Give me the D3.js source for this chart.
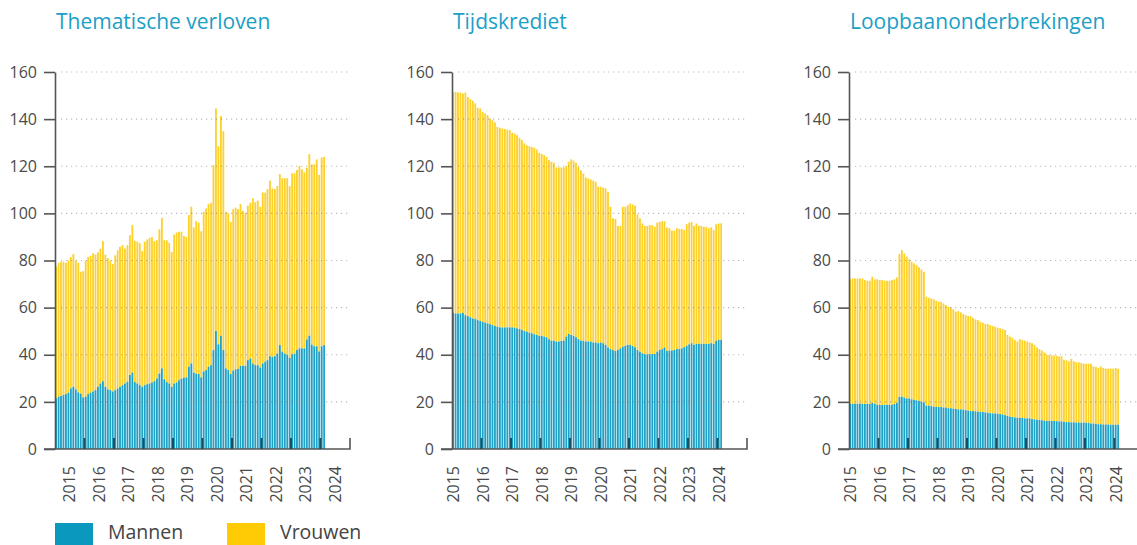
<!DOCTYPE html>
<html>
<head>
<meta charset="utf-8">
<script src="https://cdn.jsdelivr.net/npm/d3@7"></script>
<style>
  body { margin: 0; background: #fff; }
  svg { display: block; font-family: "Open Sans", sans-serif; }
</style>
</head>
<body>
<div id="chart"></div>
<script>
const width = 1137;
const height = 545;

const titles = ["Thematische verloven", "Tijdskrediet", "Loopbaanonderbrekingen"];
const years = [2015, 2016, 2017, 2018, 2019, 2020, 2021, 2022, 2023, 2024];
const yTicks = [0, 20, 40, 60, 80, 100, 120, 140, 160];
const legendLabels = ["Mannen", "Vrouwen"];

// monthly bars, Jan 2015 - Feb 2024 (in thousands)
const months = d3.utcMonths(new Date(Date.UTC(2015, 0, 1)), new Date(Date.UTC(2024, 2, 1)));

const mannenThema = [21.5,22.2,22.5,22.9,23.3,23.9,25.7,26.4,25.3,24.0,
  23.5,21.9,22.2,23.3,23.9,24.4,25.0,26.4,27.8,28.8,
  26.4,25.3,25.0,24.4,25.0,25.7,26.4,27.1,27.8,28.5,
  31.4,32.5,28.4,27.8,27.1,26.4,27.1,27.5,27.8,28.2,
  28.8,29.9,32.0,34.2,29.6,28.4,27.8,26.4,27.8,28.2,
  29.2,29.9,30.2,30.4,34.9,36.3,32.4,32.0,31.8,30.4,
  32.9,33.5,34.9,35.6,42.0,50.1,44.4,48.0,42.0,34.2,
  33.5,31.8,33.3,33.8,34.0,35.3,35.3,35.3,37.7,38.4,
  36.3,35.6,35.6,34.6,36.3,37.0,37.7,39.4,39.1,39.4,
  40.5,44.1,41.3,40.5,39.9,38.7,40.2,40.5,42.0,42.7,
  42.7,42.7,46.5,48.1,44.3,43.6,43.6,41.4,43.6,44.1];
const totaalThema = [77.5,79,79.5,79.5,79,80,81.5,82.7,80,79,
  75.2,75.5,80,81.5,82,83,82.5,83.5,85,88.2,
  82.5,81,80,78.5,82.2,84.4,85.8,86.5,85.1,86.5,
  90.7,95.0,88.4,88.0,87.3,84.0,88.0,88.9,89.6,90.0,
  88.2,88.6,93.2,98.1,88.6,88.6,87.5,83.6,91.0,91.9,
  92.2,92.2,90.4,90.0,99.3,102.8,94.0,96.7,96.1,92.4,
  100.7,102.1,104.0,104.5,120.5,144.5,128.5,141.3,134.9,100.7,
  100.0,96.4,101.8,102.5,101.8,104.0,101.1,100.3,103.3,104.5,
  106.4,104.7,105.4,102.8,108.9,108.8,110.3,113.9,110.6,110.3,
  111.6,116.7,114.9,114.9,114.9,111.6,117.0,117.0,118.4,120.1,
  118.7,117.4,119.4,125.1,120.8,120.8,122.9,116.3,123.7,124.0];

const mannenTijd = [57.8,57.5,57.5,57.5,57.8,56.8,56.4,55.9,55.4,55.2,
  54.7,54.3,54.0,53.6,53.3,53.0,52.6,52.2,51.9,51.6,
  51.6,51.6,51.6,51.6,51.6,51.5,51.2,50.9,50.5,50.1,
  49.8,49.4,49.1,48.7,48.4,48.0,48.0,47.7,47.4,46.6,
  46.0,45.9,45.6,45.6,45.9,46.0,47.7,48.8,48.4,48.0,
  47.4,46.6,46.0,45.9,45.6,45.6,45.6,45.2,45.2,44.9,
  45.2,44.9,44.2,43.1,42.4,42.0,41.6,42.0,42.7,43.4,
  43.8,44.2,44.2,43.7,43.2,42.0,41.3,40.6,40.2,40.2,
  40.2,40.3,40.3,41.3,42.0,42.4,43.1,41.6,41.8,41.8,
  42.0,42.4,42.4,42.7,43.2,43.8,44.4,44.9,44.2,44.6,
  44.6,44.6,44.6,44.6,44.6,44.9,44.6,45.9,46.3,46.3];
const totaalTijd = [151.3,151.6,151.3,151.3,150.9,151.3,149.4,148.5,147.8,146.7,
  144.8,144.5,143.1,142.4,141.7,140.3,139.6,138.6,136.7,136.3,
  136.0,135.8,135.6,135.3,134.2,133.9,133.2,132.1,131.1,129.7,
  128.9,128.5,128.2,127.8,127.1,125.7,125.2,124.7,124.0,122.6,
  121.9,121.5,119.5,119.5,119.5,119.5,120.1,121.9,122.9,122.4,
  121.5,119.7,118.3,116.9,115.2,114.8,114.4,113.9,113.4,111.3,
  111.3,110.9,110.6,109.2,102.8,97.9,97.6,94.7,94.7,102.8,
  102.8,103.5,104.2,103.8,103.3,99.6,97.9,95.7,94.7,94.7,
  95.0,95.0,94.3,96.1,96.4,96.7,96.7,94.0,93.7,92.7,
  92.7,93.7,93.4,93.4,92.9,95.4,96.1,96.4,94.7,95.7,
  94.7,94.7,94.3,94.3,93.7,94.1,92.9,95.4,95.7,95.8];

const mannenLoop = [19.2,19.2,19.2,19.2,19.2,19.2,19.1,19.1,19.1,19.6,
  19.2,18.8,18.7,18.7,18.7,18.7,18.7,18.7,19.1,19.6,
  22.1,22.2,21.8,21.5,21.4,21.1,20.8,20.7,20.4,20.1,
  19.8,18.4,18.4,18.2,17.9,17.9,17.8,17.8,17.6,17.6,
  17.3,17.3,17.1,17.0,16.8,16.8,16.7,16.5,16.3,16.1,
  16.1,16.0,15.8,15.8,15.7,15.5,15.4,15.2,15.1,15.1,
  14.9,14.8,14.7,14.4,14.0,13.7,13.6,13.4,13.3,13.2,
  13.2,13.0,13.0,13.0,12.7,12.6,12.4,12.3,12.2,12.0,
  11.9,11.9,11.9,11.9,11.8,11.7,11.7,11.5,11.4,11.4,
  11.3,11.3,11.2,11.2,11.2,11.2,11.1,11.1,10.8,10.8,
  10.6,10.5,10.5,10.4,10.4,10.4,10.3,10.3,10.3,10.3];
const totaalLoop = [72.0,72.4,72.4,72.4,72.4,72.4,71.7,71.4,71.4,73.1,
  72.0,72.0,71.7,71.7,71.4,71.4,71.4,71.7,72.0,72.8,
  82.7,84.4,83.0,81.6,80.5,79.5,78.8,78.1,77.1,76.2,
  75.2,64.6,64.2,63.9,63.5,62.9,62.5,62.5,61.8,61.1,
  60.4,60.1,59.3,58.3,58.5,58.0,57.3,56.8,56.4,56.4,
  55.7,55.0,54.7,54.0,53.6,53.0,53.0,52.6,52.2,51.9,
  51.5,51.2,50.9,50.5,48.4,47.7,47.3,46.3,45.6,46.6,
  46.3,46.0,45.6,45.2,44.9,44.2,43.1,42.4,41.8,41.0,
  40.0,40.0,39.7,39.7,39.6,39.3,39.3,37.9,37.6,37.2,
  38.2,37.2,36.8,36.8,36.5,36.2,36.2,36.2,36.2,35.1,
  34.8,34.4,35.1,34.4,34.1,34.1,34.1,34.1,34.4,34.1];

const panels = [
  { title: titles[0], mannen: mannenThema, totaal: totaalThema, left: 55, labelMid: true },
  { title: titles[1], mannen: mannenTijd, totaal: totaalTijd, left: 452, labelMid: false },
  { title: titles[2], mannen: mannenLoop, totaal: totaalLoop, left: 849, labelMid: false }
];

const blue = "#1fa1c6";
const yellow = "#fdd02a";
const axisColor = "#555";
const plotWidth = 295;
const plotTop = 72;
const plotBottom = 449;

const svg = d3.select("#chart").append("svg")
  .attr("width", width)
  .attr("height", height)
  .style("overflow", "hidden");

const y = d3.scaleLinear().domain([0, 160]).range([plotBottom, plotTop]);

panels.forEach(p => {
  const x = d3.scaleUtc()
    .domain([new Date(Date.UTC(2015, 0, 1)), new Date(Date.UTC(2025, 0, 1))])
    .range([p.left, p.left + plotWidth]);

  const g = svg.append("g");

  g.append("text")
    .text(p.title)
    .attr("x", p.left + 1)
    .attr("y", 29)
    .attr("fill", "#1ba0c6")
    .style("font-size", "21px")
    .style("font-weight", 500);

  const rows = months.map((m, i) => ({
    x0: x(m),
    x1: x(d3.utcMonth.offset(m, 1)),
    mannen: p.mannen[i],
    totaal: p.totaal[i]
  }));

  g.selectAll("rect.vrouwen")
    .data(rows)
    .enter()
    .append("rect")
    .attr("class", "vrouwen")
    .attr("x", d => d.x0 + 0.3)
    .attr("width", d => (d.x1 - d.x0) * 0.74)
    .attr("y", d => y(d.totaal))
    .attr("height", d => y(d.mannen) - y(d.totaal))
    .attr("fill", yellow);

  g.selectAll("rect.mannen")
    .data(rows)
    .enter()
    .append("rect")
    .attr("class", "mannen")
    .attr("x", d => d.x0 + 0.3)
    .attr("width", d => (d.x1 - d.x0) * 0.74)
    .attr("y", d => y(d.mannen))
    .attr("height", d => y(0) - y(d.mannen))
    .attr("fill", blue);

  // dotted gridlines, drawn over the bars
  g.selectAll("line.grid")
    .data(yTicks.filter(t => t > 0))
    .enter()
    .append("line")
    .attr("class", "grid")
    .attr("x1", p.left + 6)
    .attr("x2", p.left + plotWidth)
    .attr("y1", d => y(d))
    .attr("y2", d => y(d))
    .attr("stroke", "#808080")
    .attr("stroke-opacity", 0.55)
    .attr("stroke-width", 1.2)
    .attr("stroke-dasharray", "1.2,3.8");

  const gy = g.append("g")
    .attr("transform", `translate(${p.left}, 0)`)
    .call(d3.axisLeft(y)
      .tickValues(yTicks)
      .tickSize(11)
      .tickSizeOuter(0)
      .tickPadding(7));
  gy.select(".domain").attr("stroke", axisColor).attr("stroke-width", 1.6);
  gy.selectAll(".tick line").attr("stroke", axisColor).attr("stroke-width", 1.6);
  gy.selectAll(".tick text")
    .attr("fill", "#4a4a4a")
    .style("font-size", "16px")
    .style("font-family", "Open Sans");

  // x axis base line with end tick
  const [xa, xb] = x.range();
  g.append("path")
    .attr("d", `M${xa - 11},${plotBottom}H${xb}V${plotBottom - 11}`)
    .attr("fill", "none")
    .attr("stroke", axisColor)
    .attr("stroke-width", 1.6);

  g.selectAll("line.yeartick")
    .data(years.slice(1))
    .enter()
    .append("line")
    .attr("class", "yeartick")
    .attr("x1", d => x(new Date(Date.UTC(d, 0, 1))))
    .attr("x2", d => x(new Date(Date.UTC(d, 0, 1))))
    .attr("y1", plotBottom)
    .attr("y2", plotBottom - 11)
    .attr("stroke", "#1c4d5c")
    .attr("stroke-width", 2);

  g.selectAll("text.year")
    .data(years)
    .enter()
    .append("text")
    .attr("class", "year")
    .text(d => d)
    .attr("transform", d => {
      const cx = p.labelMid ? x(new Date(Date.UTC(d, 6, 1))) : x(new Date(Date.UTC(d, 0, 1))) + 1.5;
      return `translate(${cx}, 466) rotate(-90)`;
    })
    .attr("dy", "0.35em")
    .attr("text-anchor", "end")
    .attr("fill", "#4a4a4a")
    .style("font-size", "16px");
});

const legend = svg.selectAll("g.legend")
  .data(legendLabels)
  .enter()
  .append("g")
  .attr("class", "legend")
  .attr("transform", (d, i) => `translate(${55 + i * 172}, 523)`);

legend.append("rect")
  .attr("width", 38)
  .attr("height", 26)
  .attr("fill", (d, i) => i === 0 ? "#0b98bf" : "#ffcb05");

legend.append("text")
  .text(d => d)
  .attr("x", 53)
  .attr("y", 16)
  .attr("fill", "#444")
  .style("font-size", "19.5px");
</script>
</body>
</html>
